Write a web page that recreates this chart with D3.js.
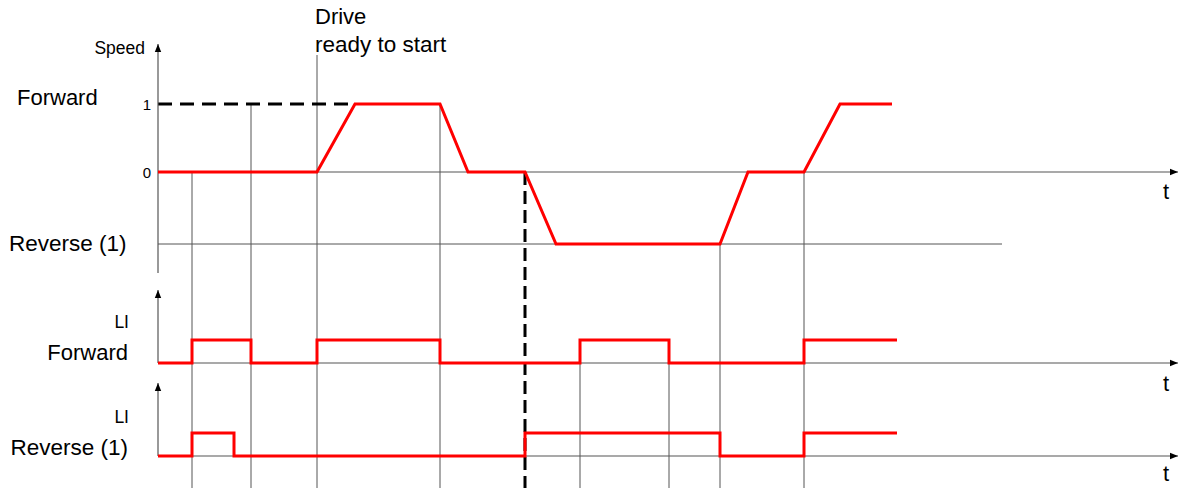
<!DOCTYPE html>
<html><head><meta charset="utf-8">
<script src="https://cdn.jsdelivr.net/npm/d3@7"></script>
<style>
html,body{margin:0;padding:0;background:#fff;}
svg{display:block;}
text{font-family:"Liberation Sans",Arial,sans-serif;fill:#000;}
</style></head>
<body>
<script>
// ---- data ----
// time in arbitrary units (0 = speed axis origin)
const speedTimes  = [0, 159, 197, 282, 310, 367, 398, 562, 590, 646, 682, 734];
const speedValues = [0,   0,   1,   1,   0,   0,  -1,  -1,   0,   0,   1,   1];
const speedTicks  = [1, 0];
const speedTickLabels = ["1", "0"];

const liFwdTimes  = [0, 34, 93, 159, 282, 422, 511, 646, 739];
const liFwdValues = [0,  1,  0,   1,   0,   1,   0,   1,   1];

const liRevTimes  = [0, 34, 76, 367, 562, 646, 739];
const liRevValues = [0,  1,  0,   1,   0,   1,   1];

// vertical event markers: time and the level where each starts
const markerTimes  = [34, 93, 159, 282, 367, 422, 511, 562, 646];
const markerFrom   = ["s0","s1","top","s1","s0","f1","f1","sr","s0"];
const markerDashed = [false,false,false,false,true,false,false,false,false];

const readyTime = 159;
const setpointEndTime = 197;
const reverseLineEnd = 844;
const timeAxisEnd = 1020;

// ---- drawing ----
const W = 1178, H = 488;
const svg = d3.select("body").append("svg").attr("width", W).attr("height", H);

const x = d3.scaleLinear().domain([0, timeAxisEnd]).range([158, 1178]);
const ySpeed = d3.scaleLinear().domain([-1, 0, 1]).range([244, 172, 104]);
const yFwd = d3.scaleLinear().domain([0, 1]).range([363, 340]);
const yRev = d3.scaleLinear().domain([0, 1]).range([456, 433]);

const defs = svg.append("defs");
defs.append("marker").attr("id","arr").attr("viewBox","0 0 10 10")
  .attr("refX",10).attr("refY",5).attr("markerWidth",8).attr("markerHeight",8)
  .attr("markerUnits","userSpaceOnUse").attr("orient","auto")
  .append("path").attr("d","M0,1 L10,5 L0,9 Z").attr("fill","#000");

const gray = "#555";
const g = svg.append("g");

// vertical markers
const levelY = {s0: ySpeed(0), s1: ySpeed(1), sr: ySpeed(-1), f1: yFwd(1), top: 55};
markerTimes.forEach((t, i) => {
  const l = g.append("line").attr("x1", x(t)).attr("x2", x(t))
    .attr("y1", levelY[markerFrom[i]]).attr("y2", H);
  if (markerDashed[i]) l.attr("stroke","#000").attr("stroke-width",3).attr("stroke-dasharray","13,6");
  else l.attr("stroke", gray).attr("stroke-width",1);
});

// reverse level line
g.append("line").attr("x1", x(0)).attr("x2", x(reverseLineEnd))
  .attr("y1", ySpeed(-1)).attr("y2", ySpeed(-1)).attr("stroke", gray).attr("stroke-width",1);

// setpoint dashed line at speed 1
g.append("line").attr("x1", x(0)).attr("x2", x(setpointEndTime))
  .attr("y1", ySpeed(1)).attr("y2", ySpeed(1))
  .attr("stroke","#000").attr("stroke-width",3).attr("stroke-dasharray","14,8");

// time axes with arrows
[ySpeed(0), yFwd(0), yRev(0)].forEach(yy => {
  g.append("line").attr("x1", x(0)).attr("x2", x(timeAxisEnd))
    .attr("y1", yy).attr("y2", yy).attr("stroke", gray).attr("stroke-width",1.2)
    .attr("marker-end","url(#arr)");
});
// vertical axes
[[273, 44], [yFwd(0), 290], [yRev(0), 383]].forEach(([a, b]) => {
  g.append("line").attr("x1", x(0)).attr("x2", x(0)).attr("y1", a).attr("y2", b)
    .attr("stroke", gray).attr("stroke-width",1.2).attr("marker-end","url(#arr)");
});

// speed curve
const speedLine = d3.line().x((d,i)=>x(speedTimes[i])).y(d=>ySpeed(d));
g.append("path").attr("d", speedLine(speedValues)).attr("fill","none")
  .attr("stroke","#ff0000").attr("stroke-width",3).attr("stroke-linejoin","miter");

// LI step curves
const stepF = d3.line().curve(d3.curveStepAfter).x((d,i)=>x(liFwdTimes[i])).y(d=>yFwd(d));
g.append("path").attr("d", stepF(liFwdValues)).attr("fill","none")
  .attr("stroke","#ff0000").attr("stroke-width",3);
const stepR = d3.line().curve(d3.curveStepAfter).x((d,i)=>x(liRevTimes[i])).y(d=>yRev(d));
g.append("path").attr("d", stepR(liRevValues)).attr("fill","none")
  .attr("stroke","#ff0000").attr("stroke-width",3);

// texts
function txt(str, tx, ty, size, anchor) {
  g.append("text").attr("x", tx).attr("y", ty).attr("font-size", size)
    .attr("text-anchor", anchor || "start").attr("dominant-baseline","central").text(str);
}
speedTicks.forEach((v,i) => txt(speedTickLabels[i], 151, ySpeed(v), 15, "end"));
txt("Speed", 145, 48, 17.5, "end");
txt("Forward", 17, 97, 22);
txt("Reverse (1)", 9, 243, 22.5);
txt("Drive", x(readyTime) - 2, 16, 22);
txt("ready to start", x(readyTime) - 2, 44, 22.5);
txt("LI", 129, 322, 17.5, "end");
txt("Forward", 128, 352, 22, "end");
txt("LI", 129, 417, 17.5, "end");
txt("Reverse (1)", 128, 447, 22.5, "end");
[191, 383, 473].forEach(yy => txt("t", 1166, yy, 22, "middle"));
</script>
</body></html>
